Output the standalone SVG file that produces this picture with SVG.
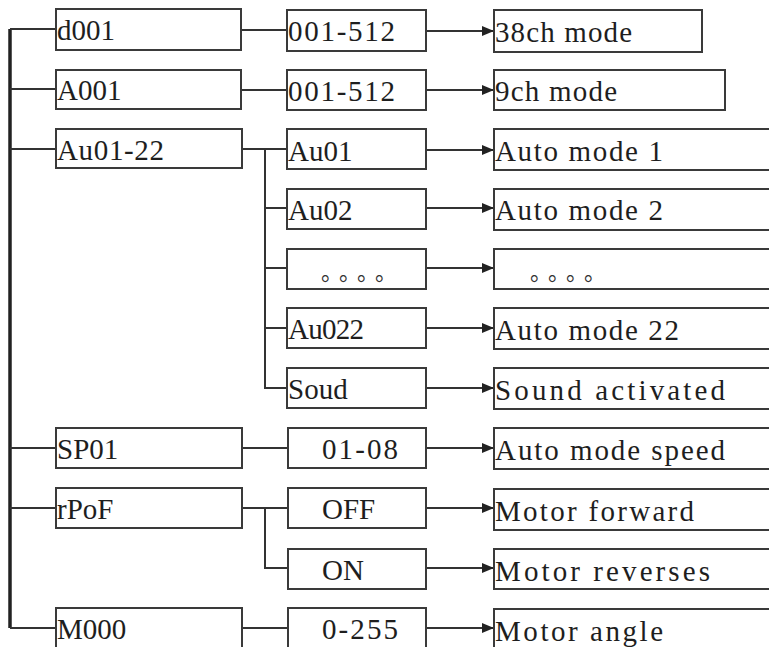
<svg xmlns="http://www.w3.org/2000/svg" width="769" height="647" viewBox="0 0 769 647">
<style>
.bx{fill:#fff;stroke:#3a3a3a;stroke-width:2}
.t{font-family:"Liberation Serif","DejaVu Serif",serif;font-size:29px;fill:#1e1e1e}
.d{font-family:"Noto Sans CJK SC",sans-serif;font-size:22px;fill:#333;letter-spacing:7px}
.ln{stroke:#333;stroke-width:2;fill:none}
.bus{stroke:#222;stroke-width:3.5;fill:none}
.ar{stroke:#333;stroke-width:2;fill:none;marker-end:url(#ah)}
</style>
<defs>
<marker id="ah" markerWidth="12" markerHeight="10" refX="12" refY="5" orient="auto" markerUnits="userSpaceOnUse">
<path d="M0,0 L12,5 L0,10 Z" fill="#222"/>
</marker>
</defs>
<rect width="769" height="647" fill="#fff"/>

<g id="connectors">
<path class="bus" d="M10,29 V628"/>
<path class="ln" d="M10,29 H56 M10,89 H56 M10,149 H56 M10,448 H56 M10,508 H56 M10,628 H56"/>
<path class="ln" d="M241,30 H287 M241,90 H287 M241,149 H287 M241,448 H287 M241,628 H287"/>
<path class="ln" d="M241,149 H265 V388 H287 M265,208 H287 M265,268 H287 M265,328 H287"/>
<path class="ln" d="M241,508 H287 M265,508 V568 H287"/>
<path class="ar" d="M426,31 H494"/>
<path class="ar" d="M426,90 H494"/>
<path class="ar" d="M426,150 H494"/>
<path class="ar" d="M426,208 H494"/>
<path class="ar" d="M426,268 H494"/>
<path class="ar" d="M426,328 H494"/>
<path class="ar" d="M426,388 H494"/>
<path class="ar" d="M426,448 H494"/>
<path class="ar" d="M426,508 H494"/>
<path class="ar" d="M426,568 H494"/>
<path class="ar" d="M426,628 H494"/>
</g>

<g id="n-d001"><rect class="bx" x="56" y="9" width="185" height="41"/><text class="t" x="57" y="40">d001</text></g>
<g id="n-A001"><rect class="bx" x="56" y="70" width="185" height="39"/><text class="t" x="57" y="100">A001</text></g>
<g id="n-Au01-22"><rect class="bx" x="56" y="129" width="186" height="39"/><text class="t" x="57" y="160" textLength="107" lengthAdjust="spacing">Au01-22</text></g>
<g id="n-SP01"><rect class="bx" x="56" y="428" width="186" height="40"/><text class="t" x="57" y="459">SP01</text></g>
<g id="n-rPoF"><rect class="bx" x="56" y="488" width="186" height="40"/><text class="t" x="57" y="519">rPoF</text></g>
<g id="n-M000"><rect class="bx" x="56" y="608" width="186" height="42"/><text class="t" x="57" y="639">M000</text></g>

<g id="n-512a"><rect class="bx" x="287" y="10" width="139" height="41"/><text class="t" x="288" y="41" textLength="107" lengthAdjust="spacing">001-512</text></g>
<g id="n-512b"><rect class="bx" x="287" y="70" width="139" height="40"/><text class="t" x="288" y="101" textLength="107" lengthAdjust="spacing">001-512</text></g>
<g id="n-Au01"><rect class="bx" x="287" y="129" width="139" height="40"/><text class="t" x="288" y="161">Au01</text></g>
<g id="n-Au02"><rect class="bx" x="287" y="189" width="139" height="40"/><text class="t" x="288" y="220">Au02</text></g>
<g id="n-dots1"><rect class="bx" x="287" y="249" width="139" height="40"/><text class="d" x="321" y="280">。。。。</text></g>
<g id="n-Au022"><rect class="bx" x="287" y="308" width="139" height="40"/><text class="t" x="288" y="339" textLength="76" lengthAdjust="spacing">Au022</text></g>
<g id="n-Soud"><rect class="bx" x="287" y="368" width="139" height="40"/><text class="t" x="288" y="399">Soud</text></g>
<g id="n-0108"><rect class="bx" x="288" y="428" width="138" height="40"/><text class="t" x="322" y="459" textLength="76" lengthAdjust="spacing">01-08</text></g>
<g id="n-OFF"><rect class="bx" x="288" y="488" width="138" height="40"/><text class="t" x="322" y="519">OFF</text></g>
<g id="n-ON"><rect class="bx" x="288" y="549" width="138" height="40"/><text class="t" x="322" y="580">ON</text></g>
<g id="n-0255"><rect class="bx" x="288" y="608" width="138" height="42"/><text class="t" x="322" y="639" textLength="76" lengthAdjust="spacing">0-255</text></g>

<g id="n-38ch"><rect class="bx" x="494" y="10" width="208" height="42"/><text class="t" x="495" y="42" textLength="137" lengthAdjust="spacing">38ch mode</text></g>
<g id="n-9ch"><rect class="bx" x="494" y="70" width="231" height="40"/><text class="t" x="495" y="101" textLength="122" lengthAdjust="spacing">9ch mode</text></g>
<g id="n-auto1"><rect class="bx" x="494" y="129" width="285" height="41"/><text class="t" x="495" y="161" textLength="168" lengthAdjust="spacing">Auto mode 1</text></g>
<g id="n-auto2"><rect class="bx" x="494" y="189" width="285" height="41"/><text class="t" x="495" y="220" textLength="168" lengthAdjust="spacing">Auto mode 2</text></g>
<g id="n-dots2"><rect class="bx" x="494" y="249" width="285" height="40"/><text class="d" x="530" y="280">。。。。</text></g>
<g id="n-auto22"><rect class="bx" x="494" y="308" width="285" height="41"/><text class="t" x="495" y="340" textLength="184" lengthAdjust="spacing">Auto mode 22</text></g>
<g id="n-sound"><rect class="bx" x="494" y="368" width="285" height="41"/><text class="t" x="495" y="400" textLength="230" lengthAdjust="spacing">Sound activated</text></g>
<g id="n-speed"><rect class="bx" x="494" y="428" width="285" height="41"/><text class="t" x="495" y="460" textLength="230" lengthAdjust="spacing">Auto mode speed</text></g>
<g id="n-fwd"><rect class="bx" x="494" y="489" width="285" height="41"/><text class="t" x="495" y="521" textLength="199" lengthAdjust="spacing">Motor forward</text></g>
<g id="n-rev"><rect class="bx" x="494" y="549" width="285" height="40"/><text class="t" x="495" y="581" textLength="215" lengthAdjust="spacing">Motor reverses</text></g>
<g id="n-angle"><rect class="bx" x="494" y="609" width="285" height="42"/><text class="t" x="495" y="641" textLength="168" lengthAdjust="spacing">Motor angle</text></g>
</svg>
